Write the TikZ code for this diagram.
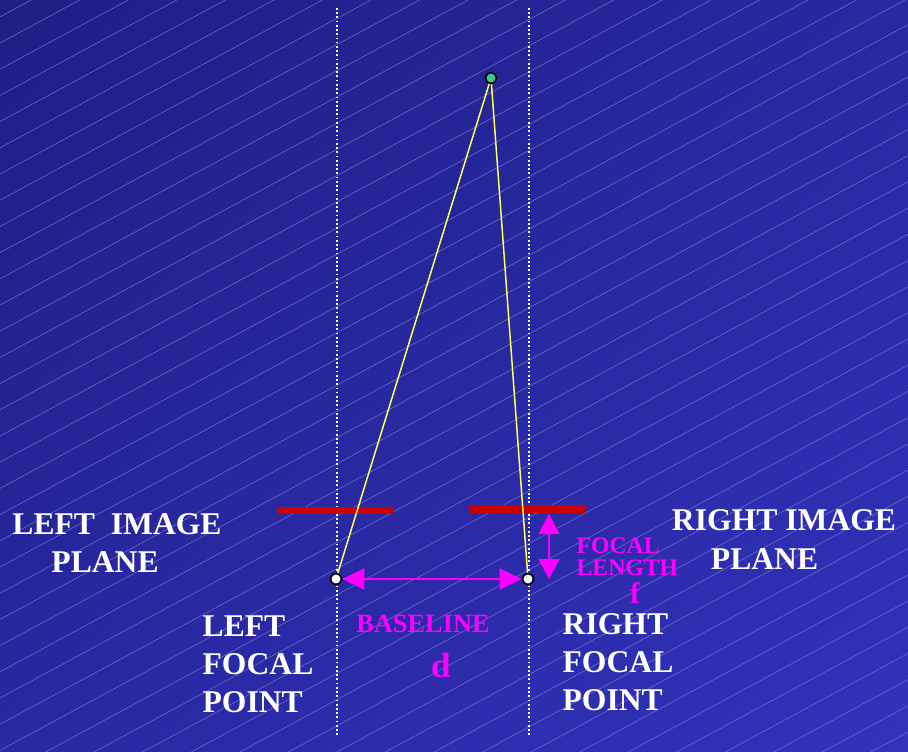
\documentclass[tikz,border=0pt]{standalone}
\usepackage{fontspec}
\setmainfont{Liberation Serif}
\usepackage{tikz}
\usetikzlibrary{arrows.meta,positioning,shadings}
\definecolor{bgdark}{RGB}{30,30,132}
\definecolor{bgmid}{RGB}{40,40,162}
\definecolor{bglight}{RGB}{50,50,188}
\definecolor{hatchblue}{RGB}{118,118,200}
\definecolor{planered}{RGB}{204,0,0}
\definecolor{rayyellow}{RGB}{255,255,90}
\definecolor{scenegreen}{RGB}{50,205,150}
\definecolor{measurepink}{RGB}{255,0,255}
\tikzset{every picture/.style={line width=0.75pt}}

\begin{document}
\begin{tikzpicture}[x=0.02cm,y=-0.02cm,
  hatch/.style={draw=hatchblue,line width=0.28pt},
  axisline/.style={draw=white,line width=0.6pt,dash pattern=on 1pt off 1.4pt},
  imageplane/.style={draw=planered,line width=0.15cm},
  ray/.style={draw=rayyellow,line width=0.85pt},
  focalpt/.style={circle,draw=black,fill=white,line width=0.9pt,minimum size=0.22cm,inner sep=0pt},
  scenept/.style={focalpt,fill=scenegreen},
  whitelabel/.style={text=white,font=\fontsize{18}{21.7}\selectfont\bfseries,inner sep=0pt},
  pinklabel/.style={text=measurepink,font=\fontsize{15}{18}\selectfont\bfseries,inner sep=0pt}
]
  \useasboundingbox (0,0) rectangle (908,751);
  \shade[upper left=bgdark,upper right=bgmid,lower left=bgmid,lower right=bglight] (0,0) rectangle (908,751);
  \begin{scope}
    \clip (0,0) rectangle (908,751);
    \foreach \k in {-1,...,46}
      \draw[hatch] (0,43+\k*26.2) -- ++(908,-490);
  \end{scope}

  % optical axes
  \draw[axisline] (337,8) -- (337,736);
  \draw[axisline] (529,8) -- (529,736);

  % image planes
  \draw[imageplane] (277,510.5) -- (394,510.5);
  \draw[imageplane] (469,509) -- (586,509);

  \node[scenept] (scene) at (491,78) {};
  \node[focalpt] (lf) at (336,579) {};
  \node[focalpt] (rf) at (528,579) {};
  \coordinate (fltop) at (549,514);
  \coordinate (flbot) at (549,579);

  \draw[ray] (scene) -- (lf);
  \draw[ray] (scene) -- (rf);
  \draw[measurepink,line width=1.1pt,{Triangle[length=0.44cm,width=0.42cm]}-{Triangle[length=0.44cm,width=0.42cm]}] (lf) -- (rf);
  \draw[measurepink,line width=0.75pt,{Triangle[length=0.4cm,width=0.42cm]}-{Triangle[length=0.4cm,width=0.42cm]}] (fltop) -- (flbot);

  \node[whitelabel,align=left] (leftplane) at (117,543) {LEFT\ \ IMAGE\\\hspace*{0.78cm}PLANE};
  \node[whitelabel,align=left] (rightplane) at (784,539.5) {RIGHT IMAGE\\\hspace*{0.78cm}PLANE};
  \node[whitelabel,align=left,anchor=west] (leftfocal) at (202,664) {LEFT\\FOCAL\\POINT};
  \node[whitelabel,align=left,anchor=west] (rightfocal) at (562,662) {RIGHT\\FOCAL\\POINT};
  \node[pinklabel] (baseline) at (423,624) {BASELINE};
  \node[pinklabel,font=\fontsize{20}{24}\selectfont\bfseries] (dist) at (441,665) {d};
  \node[pinklabel,font=\fontsize{13.5}{12.5}\selectfont\bfseries,align=left,anchor=west] (focallen) at (576,557) {FOCAL\\LENGTH};
  \node[pinklabel,font=\fontsize{17}{20}\selectfont\bfseries] (flen) at (635,593) {f};
\end{tikzpicture}
\end{document}
